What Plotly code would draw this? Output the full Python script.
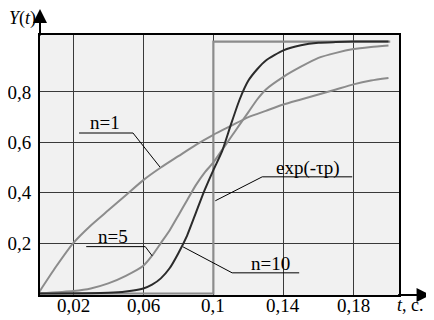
import plotly.graph_objects as go

# ---- data ----
t_n1 = [0, 0.01, 0.02, 0.03, 0.04, 0.05, 0.06, 0.07, 0.08, 0.09, 0.1, 0.11, 0.12,
        0.13, 0.14, 0.15, 0.16, 0.17, 0.18, 0.19, 0.2]
y_n1 = [0, 0.105, 0.2, 0.27, 0.33, 0.39, 0.45, 0.5, 0.545, 0.59, 0.63, 0.665, 0.70,
        0.725, 0.75, 0.77, 0.79, 0.81, 0.83, 0.845, 0.855]

t_n5 = [0, 0.02, 0.03, 0.04, 0.05, 0.06, 0.065, 0.07, 0.075, 0.08, 0.085, 0.09, 0.095,
        0.1, 0.105, 0.11, 0.115, 0.12, 0.125, 0.13, 0.14, 0.15, 0.16, 0.17, 0.18, 0.19, 0.2]
y_n5 = [0, 0.01, 0.02, 0.04, 0.07, 0.11, 0.15, 0.2, 0.25, 0.31, 0.37, 0.43, 0.48,
        0.52, 0.57, 0.62, 0.67, 0.72, 0.77, 0.81, 0.86, 0.9, 0.935, 0.955, 0.97, 0.978, 0.984]

t_n10 = [0, 0.04, 0.05, 0.06, 0.065, 0.07, 0.075, 0.08, 0.085, 0.09, 0.095, 0.1, 0.105,
         0.11, 0.115, 0.12, 0.125, 0.13, 0.14, 0.15, 0.16, 0.17, 0.18, 0.19, 0.2]
y_n10 = [0, 0.003, 0.008, 0.02, 0.035, 0.06, 0.1, 0.16, 0.23, 0.32, 0.41, 0.49, 0.565,
         0.67, 0.77, 0.845, 0.89, 0.925, 0.965, 0.985, 0.995, 0.998, 1.0, 1.0, 1.0]

t_exp = [0, 0.1, 0.1, 0.201]
y_exp = [0, 0, 1, 1]

x_ticks = [0.02, 0.06, 0.1, 0.14, 0.18]
x_tick_text = ["0,02", "0,06", "0,1", "0,14", "0,18"]
y_ticks = [0.2, 0.4, 0.6, 0.8]
y_tick_text = ["0,2", "0,4", "0,6", "0,8"]

# labels: text, text position, leader polyline
labels = [
    ("n=1", (0.0381, 0.677), [(0.0233, 0.637), (0.0541, 0.637), (0.0695, 0.502)]),
    ("n=5", (0.0427, 0.225), [(0.0274, 0.186), (0.0611, 0.186), (0.0651, 0.149)]),
    ("n=10", (0.1326, 0.120), [(0.0827, 0.185), (0.1107, 0.082), (0.1490, 0.082)]),
    ("exp(-τp)", (0.1543, 0.500), [(0.1793, 0.463), (0.1279, 0.463), (0.1011, 0.368)]),
]

FONT = "Liberation Serif"
GRAY = "#8c8c8c"
DARK = "#2b2b2b"

fig = go.Figure()
fig.add_trace(go.Scatter(x=t_exp, y=y_exp, mode="lines", line=dict(color=GRAY, width=2.2)))
fig.add_trace(go.Scatter(x=t_n1, y=y_n1, mode="lines", line=dict(color=GRAY, width=2, shape="spline", smoothing=0.6)))
fig.add_trace(go.Scatter(x=t_n5, y=y_n5, mode="lines", line=dict(color=GRAY, width=2, shape="spline", smoothing=0.6)))
fig.add_trace(go.Scatter(x=t_n10, y=y_n10, mode="lines", line=dict(color=DARK, width=2, shape="spline", smoothing=0.6)))

shapes = []
annotations = []
for text, (tx, ty), pts in labels:
    annotations.append(dict(x=tx, y=ty, xref="x", yref="y", text=text, showarrow=False,
                            font=dict(family=FONT, size=19, color="black")))
    for (x0, y0), (x1, y1) in zip(pts[:-1], pts[1:]):
        shapes.append(dict(type="line", xref="x", yref="y", x0=x0, y0=y0, x1=x1, y1=y1,
                           line=dict(color="black", width=1)))

# x tick labels placed just under the axis
for v, txt in zip(x_ticks, x_tick_text):
    annotations.append(dict(x=v, y=0, xref="x", yref="paper", text=txt, showarrow=False,
                            xanchor="center", yanchor="middle", yshift=-10,
                            font=dict(family=FONT, size=19, color="black")))

# axis arrows
annotations.append(dict(xref="paper", yref="paper", x=1.088, y=0, ax=-34, ay=0,
                        text="", showarrow=True, arrowhead=2, arrowsize=1.4,
                        arrowwidth=2, arrowcolor="black"))
annotations.append(dict(xref="paper", yref="paper", x=0, y=1.1, ax=0, ay=28,
                        text="", showarrow=True, arrowhead=2, arrowsize=1.4,
                        arrowwidth=2, arrowcolor="black"))
annotations.append(dict(xref="paper", yref="paper", x=-0.05, y=1.062, xanchor="center",
                        yanchor="middle", text="<i>Y</i>(<i>t</i>)",
                        showarrow=False, font=dict(family=FONT, size=18, color="black")))
annotations.append(dict(xref="paper", yref="paper", x=1.033, y=-0.038, xanchor="center",
                        yanchor="middle", text="<i>t</i>, c.",
                        showarrow=False, font=dict(family=FONT, size=18, color="black")))

# page body has an 8px margin; size/margins compensate so the plot sits where the reference has it
fig.update_layout(
    width=426, height=312,
    margin=dict(l=32, r=35, t=27, b=25, autoexpand=False),
    paper_bgcolor="white", plot_bgcolor="#f1f1f1",
    showlegend=False,
    shapes=shapes, annotations=annotations,
    font=dict(family=FONT, size=19, color="black"),
)
fig.update_xaxes(range=[0.001, 0.206], tickvals=x_ticks, ticktext=x_tick_text,
                 showticklabels=False,
                 showgrid=True, gridcolor="#3a3a3a", gridwidth=1, automargin=False,
                 showline=True, linecolor="black", linewidth=2, mirror=True,
                 zeroline=False, ticks="")
fig.update_yaxes(range=[-0.006, 1.026], tickvals=y_ticks, ticktext=y_tick_text,
                 showgrid=True, gridcolor="#3a3a3a", gridwidth=1, automargin=False,
                 showline=True, linecolor="black", linewidth=2, mirror=True,
                 zeroline=False, ticks="", ticklabelstandoff=3,
                 tickfont=dict(family=FONT, size=19, color="black"))

fig.write_html("out.html")
